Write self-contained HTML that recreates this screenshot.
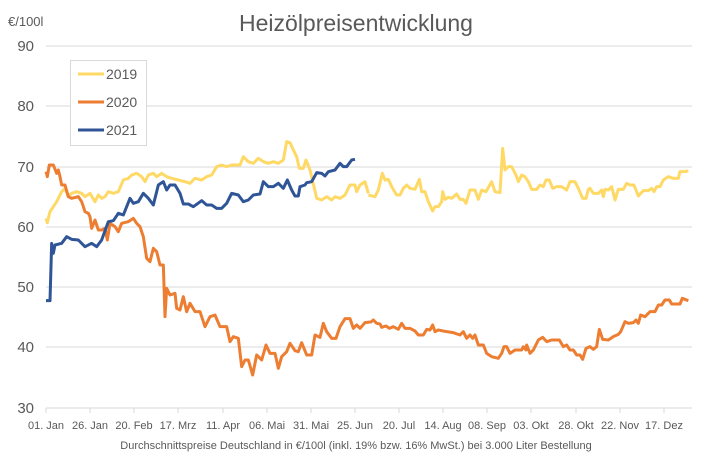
<!DOCTYPE html>
<html><head><meta charset="utf-8"><style>
body{margin:0;background:#fff;}
svg text{font-family:"Liberation Sans",sans-serif;fill:#595959;}
</style></head><body>
<svg width="712" height="462" viewBox="0 0 712 462">
<rect width="712" height="462" fill="#fff"/>
<text x="356" y="31" font-size="23" text-anchor="middle">Heizölpreisentwicklung</text>
<text x="8" y="26" font-size="13">€/100l</text>
<g stroke="#d9d9d9" stroke-width="1">
<line x1="46" y1="46" x2="692" y2="46"/><line x1="46" y1="106" x2="692" y2="106"/>
<line x1="46" y1="167" x2="692" y2="167"/><line x1="46" y1="227" x2="692" y2="227"/>
<line x1="46" y1="287" x2="692" y2="287"/><line x1="46" y1="347" x2="692" y2="347"/>
<line x1="46" y1="408" x2="692" y2="408"/>
<line x1="46" y1="408" x2="46" y2="413"/><line x1="90" y1="408" x2="90" y2="413"/><line x1="134" y1="408" x2="134" y2="413"/><line x1="178" y1="408" x2="178" y2="413"/><line x1="223" y1="408" x2="223" y2="413"/><line x1="267" y1="408" x2="267" y2="413"/><line x1="311" y1="408" x2="311" y2="413"/><line x1="355" y1="408" x2="355" y2="413"/><line x1="399" y1="408" x2="399" y2="413"/><line x1="443" y1="408" x2="443" y2="413"/><line x1="487" y1="408" x2="487" y2="413"/><line x1="531" y1="408" x2="531" y2="413"/><line x1="576" y1="408" x2="576" y2="413"/><line x1="620" y1="408" x2="620" y2="413"/><line x1="664" y1="408" x2="664" y2="413"/>
</g>
<g font-size="15" text-anchor="end">
<text x="34" y="51">90</text><text x="34" y="111">80</text><text x="34" y="172">70</text><text x="34" y="232">60</text><text x="34" y="292">50</text><text x="34" y="352">40</text><text x="34" y="413">30</text>
</g>
<g font-size="11" text-anchor="middle">
<text x="46" y="429">01. Jan</text><text x="90" y="429">26. Jan</text><text x="134" y="429">20. Feb</text><text x="178" y="429">17. Mrz</text><text x="223" y="429">11. Apr</text><text x="267" y="429">06. Mai</text><text x="311" y="429">31. Mai</text><text x="355" y="429">25. Jun</text><text x="399" y="429">20. Jul</text><text x="443" y="429">14. Aug</text><text x="487" y="429">08. Sep</text><text x="531" y="429">03. Okt</text><text x="576" y="429">28. Okt</text><text x="620" y="429">22. Nov</text><text x="664" y="429">17. Dez</text>
</g>
<text x="356" y="449" font-size="11" text-anchor="middle">Durchschnittspreise Deutschland in €/100l (inkl. 19% bzw. 16%  MwSt.) bei 3.000 Liter Bestellung</text>
<g fill="none" stroke-width="3" stroke-linejoin="round">
<g transform="translate(30,130) scale(0.33333)">
<polyline vector-effect="non-scaling-stroke" stroke="#ffd966" points="48,265 52,278 60,245 70,230 80,215 95,185 105,175 115,200 125,190 140,185 155,190 165,200 180,190 195,215 205,195 215,205 225,200 235,185 250,190 265,185 280,150 295,145 305,135 320,130 335,140 345,155 355,135 370,130 380,140 395,130 410,140 425,145 445,150 465,155 480,160 495,145 515,150 530,140 545,135 560,110 575,105 590,110 605,105 630,105 640,80 655,95 670,100 685,85 700,95 715,100 730,95 745,100 760,90 770,35 780,38 790,60 800,80 808,115 820,115 828,90 840,120 852,170 860,205 875,210 890,200 905,210 915,200 930,205 945,195 960,165 975,165 980,185 990,165 1005,155 1015,190"/>
<polyline vector-effect="non-scaling-stroke" stroke="#ed7d31" points="48,125 52,140 58,105 70,105 80,130 85,120 90,140 95,165 105,165 115,200 125,205 145,200 155,215 165,245 175,250 180,260 185,295 195,270 205,300 215,300 225,295 232,330 240,280 255,290 265,305 275,280 295,275 310,265 320,280 330,290 340,320 350,385 360,395 370,355 380,365 390,405 400,405 405,560 410,475 420,495 435,490 440,535 450,540 460,500 470,545 480,520 495,545 510,545 525,590 540,560 555,555 570,590 590,590 600,635 610,620 625,625 635,710 645,690 655,690 668,735 680,675 695,690 708,645 720,670 735,670 745,715 755,680 770,665 780,640 795,662 805,665 815,638 830,675 845,675 855,615 870,622 880,580 890,605 905,625 918,625 930,590 945,566 960,566 970,595 980,585 990,595 1005,578 1020,576"/>
<polyline vector-effect="non-scaling-stroke" stroke="#2f5597" points="48,512 60,512 65,340 70,370 75,345 95,340 110,320 125,328 145,330 165,350 185,340 200,350 215,330 235,275 250,272 265,250 280,255 300,205 310,220 325,215 340,190 355,205 370,225 385,165 400,155 410,180 420,165 435,165 450,190 460,222 475,222 490,230 515,212 530,225 545,225 560,235 575,235 590,220 605,190 625,195 640,215 655,210 670,195 690,192 700,155 715,170 730,170 745,160 760,175 772,150 785,180 795,198 805,198 810,170 825,165 830,158 845,155 860,128 875,130 885,138 895,125 915,120 930,100 940,110 950,110 965,90 975,88"/>
</g>
<g transform="translate(360,140) scale(0.33333)">
<polyline vector-effect="non-scaling-stroke" stroke="#ffd966" points="25,165 45,170 55,150 67,100 75,120 85,118 95,140 110,165 120,165 130,145 140,135 150,145 165,148 178,118 185,155 195,155 205,185 218,213 225,200 235,200 245,185 248,155 255,178 265,172 275,175 290,162 300,178 310,178 318,190 330,150 345,150 355,178 365,150 378,155 395,125 405,155 420,158 428,25 435,90 445,80 455,80 468,105 475,125 485,105 495,110 505,125 515,148 530,148 540,135 550,140 558,120 568,120 578,145 590,140 605,140 620,150 630,125 645,125 655,145 668,175 678,175 685,148 690,145 700,160 715,160 725,150 730,170 735,148 745,150 755,140 765,180 775,148 790,148 800,130 810,135 822,135 835,168 850,152 865,152 875,145 882,155 890,140 900,140 910,120 925,110 940,115 955,115 960,95 975,95 985,92"/>
<polyline vector-effect="non-scaling-stroke" stroke="#ed7d31" points="30,548 40,540 50,550 60,552 65,562 78,558 88,565 100,560 115,568 125,550 135,565 150,565 165,573 175,585 190,585 200,568 210,570 218,555 225,575 235,570 260,575 280,578 300,585 310,575 320,595 330,585 338,595 345,585 355,615 370,615 380,640 395,650 415,655 425,640 432,620 440,620 450,640 465,630 485,630 490,620 498,630 500,615 510,640 520,630 535,600 548,592 560,605 575,600 598,600 610,620 620,615 630,630 640,630 650,645 660,645 668,658 678,625 690,620 700,628 710,620 718,568 728,598 745,600 760,590 775,583 782,575 795,545 805,550 820,548 828,540 835,550 842,525 855,530 870,515 885,515 895,495 905,495 915,480 928,480 935,492 960,492 967,475 985,482"/>
</g>
</g>
<rect x="70.5" y="60.5" width="76" height="85" fill="#fff" stroke="#d9d9d9"/>
<g stroke-width="3">
<line x1="78" y1="74" x2="104" y2="74" stroke="#ffd966"/>
<line x1="78" y1="102" x2="104" y2="102" stroke="#ed7d31"/>
<line x1="78" y1="130" x2="104" y2="130" stroke="#2f5597"/>
</g>
<g font-size="14"><text x="106" y="79">2019</text><text x="106" y="107">2020</text><text x="106" y="135">2021</text></g>
</svg>
</body></html>
